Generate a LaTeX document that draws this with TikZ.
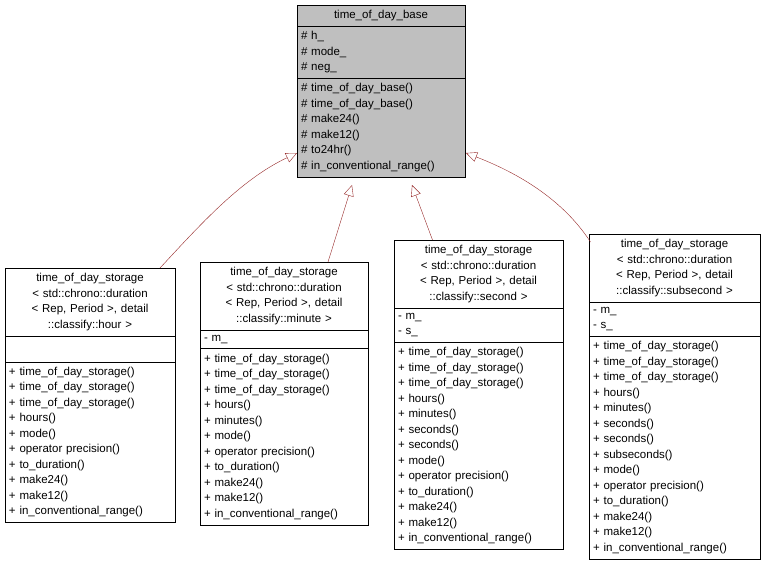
\documentclass[tikz,border=0pt]{standalone}
\usepackage{fontspec}
\setmainfont{Liberation Sans}
\usetikzlibrary{arrows.meta}
\usetikzlibrary{shapes.multipart}
\definecolor{inherit}{RGB}{150,40,40}
\definecolor{basegray}{RGB}{191,191,191}
\begin{document}
\begin{tikzpicture}[x=1pt,y=1pt,
classbox/.style={rectangle split, rectangle split parts=3, draw=black, fill=white, anchor=north,
  inner xsep=4pt, inner ysep=5pt, align=left,
  font=\fontsize{11.5}{15.5}\selectfont},
basebox/.style={classbox, fill=basegray},
inh/.style={draw=inherit, -{Triangle[open, length=11pt, width=10pt]}},
]
\useasboundingbox (0,0) rectangle (765,565);
\node[basebox, text width=160pt](base) at (381,560){\centering time\_of\_day\_base\par
\nodepart{two}\# h\_\\\# mode\_\\\# neg\_
\nodepart{three}\# time\_of\_day\_base()\\\# time\_of\_day\_base()\\\# make24()\\\# make12()\\\# to24hr()\\\# in\_conventional\_range()};
\node[classbox, text width=162pt](hour) at (90,297){\centering time\_of\_day\_storage\\{< std::chrono::duration}\\{< Rep, Period >, detail}\\::classify::hour >\par
\nodepart{two}\strut
\nodepart{three}+ time\_of\_day\_storage()\\+ time\_of\_day\_storage()\\+ time\_of\_day\_storage()\\+ hours()\\+ mode()\\+ operator precision()\\+ to\_duration()\\+ make24()\\+ make12()\\+ in\_conventional\_range()};
\node[classbox, text width=160pt](minute) at (284,303){\centering time\_of\_day\_storage\\{< std::chrono::duration}\\{< Rep, Period >, detail}\\::classify::minute >\par
\nodepart{two}- m\_
\nodepart{three}+ time\_of\_day\_storage()\\+ time\_of\_day\_storage()\\+ time\_of\_day\_storage()\\+ hours()\\+ minutes()\\+ mode()\\+ operator precision()\\+ to\_duration()\\+ make24()\\+ make12()\\+ in\_conventional\_range()};
\node[classbox, text width=161pt](second) at (478.5,325){\centering time\_of\_day\_storage\\{< std::chrono::duration}\\{< Rep, Period >, detail}\\::classify::second >\par
\nodepart{two}- m\_\\- s\_
\nodepart{three}+ time\_of\_day\_storage()\\+ time\_of\_day\_storage()\\+ time\_of\_day\_storage()\\+ hours()\\+ minutes()\\+ seconds()\\+ seconds()\\+ mode()\\+ operator precision()\\+ to\_duration()\\+ make24()\\+ make12()\\+ in\_conventional\_range()};
\node[classbox, text width=163pt](subsecond) at (674.5,331){\centering time\_of\_day\_storage\\{< std::chrono::duration}\\{< Rep, Period >, detail}\\::classify::subsecond >\par
\nodepart{two}- m\_\\- s\_
\nodepart{three}+ time\_of\_day\_storage()\\+ time\_of\_day\_storage()\\+ time\_of\_day\_storage()\\+ hours()\\+ minutes()\\+ seconds()\\+ seconds()\\+ subseconds()\\+ mode()\\+ operator precision()\\+ to\_duration()\\+ make24()\\+ make12()\\+ in\_conventional\_range()};
\draw[inh] (hour.north) ++(70,0) .. controls (200,340) and (240,385) .. (297,412);
\draw[inh] (minute.north) ++(44,0) -- (352,380);
\draw[inh] (second.north) ++(-46,0) -- (412,380);
\draw[inh] (subsecond.north) ++(-84,-8) .. controls (560,370) and (510,395) .. (466,412);
\end{tikzpicture}
\end{document}
